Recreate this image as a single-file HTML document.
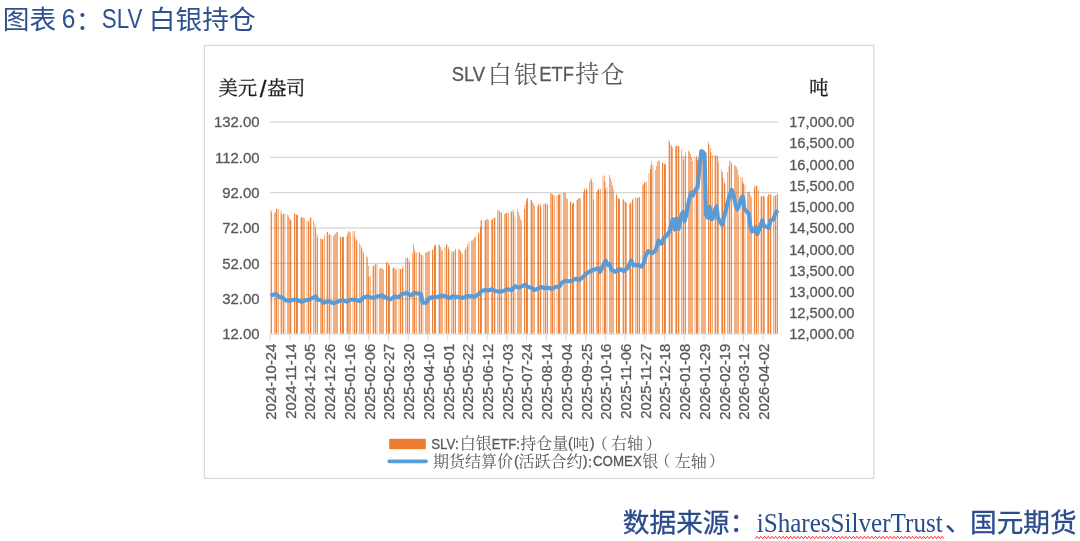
<!DOCTYPE html>
<html lang="zh-CN">
<head>
<meta charset="utf-8">
<title>SLV 白银持仓</title>
<style>
html,body{margin:0;padding:0;background:#fff;}
body{width:1080px;height:541px;position:relative;overflow:hidden;}
svg text{white-space:pre;}
</style>
</head>
<body>
<svg width="1080" height="541" viewBox="0 0 1080 541" style="position:absolute;left:0;top:0">
<rect x="204.4" y="45.4" width="669.4" height="433" fill="#fff" stroke="#d9d9d9" stroke-width="1.3"/>
<line x1="270.2" x2="778" y1="121.9" y2="121.9" stroke="#e6e6e6" stroke-width="1.2"/>
<line x1="270.2" x2="778" y1="157.3" y2="157.3" stroke="#e6e6e6" stroke-width="1.2"/>
<line x1="270.2" x2="778" y1="192.6" y2="192.6" stroke="#e6e6e6" stroke-width="1.2"/>
<line x1="270.2" x2="778" y1="228.0" y2="228.0" stroke="#e6e6e6" stroke-width="1.2"/>
<line x1="270.2" x2="778" y1="263.4" y2="263.4" stroke="#e6e6e6" stroke-width="1.2"/>
<line x1="270.2" x2="778" y1="298.8" y2="298.8" stroke="#e6e6e6" stroke-width="1.2"/>
<path fill="#ED7D31" d="M270.667 333.70V210.1h0.620V333.70zM271.333 333.70V212.0h0.620V333.70zM274.000 333.70V213.2h0.620V333.70zM275.333 333.70V211.9h0.620V333.70zM276.000 333.70V209.2h0.620V333.70zM276.667 333.70V208.5h0.620V333.70zM278.000 333.70V209.0h0.620V333.70zM280.667 333.70V210.9h0.620V333.70zM281.333 333.70V213.7h0.620V333.70zM282.667 333.70V214.4h0.620V333.70zM283.333 333.70V213.8h0.620V333.70zM284.667 333.70V213.4h0.620V333.70zM287.333 333.70V214.6h0.620V333.70zM288.000 333.70V215.5h0.620V333.70zM289.333 333.70V217.9h0.620V333.70zM290.000 333.70V219.4h0.620V333.70zM290.667 333.70V220.5h0.620V333.70zM294.000 333.70V213.3h0.620V333.70zM294.667 333.70V214.0h0.620V333.70zM296.000 333.70V214.6h0.620V333.70zM296.667 333.70V215.0h0.620V333.70zM297.333 333.70V215.3h0.620V333.70zM300.667 333.70V216.9h0.620V333.70zM301.333 333.70V217.5h0.620V333.70zM302.000 333.70V217.6h0.620V333.70zM303.333 333.70V217.7h0.620V333.70zM304.000 333.70V218.3h0.620V333.70zM306.667 333.70V221.1h0.620V333.70zM308.000 333.70V222.2h0.620V333.70zM308.667 333.70V220.0h0.620V333.70zM310.000 333.70V217.8h0.620V333.70zM310.667 333.70V217.6h0.620V333.70zM313.333 333.70V221.1h0.620V333.70zM314.667 333.70V223.5h0.620V333.70zM315.333 333.70V228.3h0.620V333.70zM316.667 333.70V233.8h0.620V333.70zM317.333 333.70V237.6h0.620V333.70zM320.000 333.70V238.5h0.620V333.70zM321.333 333.70V238.9h0.620V333.70zM322.000 333.70V239.5h0.620V333.70zM322.667 333.70V239.0h0.620V333.70zM324.000 333.70V234.7h0.620V333.70zM326.667 333.70V231.5h0.620V333.70zM327.333 333.70V232.3h0.620V333.70zM328.667 333.70V234.2h0.620V333.70zM329.333 333.70V234.6h0.620V333.70zM330.667 333.70V235.0h0.620V333.70zM333.333 333.70V236.1h0.620V333.70zM334.000 333.70V234.8h0.620V333.70zM335.333 333.70V233.6h0.620V333.70zM336.000 333.70V232.3h0.620V333.70zM337.333 333.70V231.8h0.620V333.70zM340.000 333.70V237.0h0.620V333.70zM340.667 333.70V237.0h0.620V333.70zM342.000 333.70V237.0h0.620V333.70zM342.667 333.70V237.0h0.620V333.70zM343.333 333.70V236.6h0.620V333.70zM346.667 333.70V236.3h0.620V333.70zM347.333 333.70V233.5h0.620V333.70zM348.000 333.70V230.8h0.620V333.70zM349.333 333.70V231.7h0.620V333.70zM350.000 333.70V232.6h0.620V333.70zM352.667 333.70V231.3h0.620V333.70zM354.000 333.70V230.9h0.620V333.70zM354.667 333.70V236.9h0.620V333.70zM356.000 333.70V239.3h0.620V333.70zM356.667 333.70V240.7h0.620V333.70zM359.333 333.70V243.1h0.620V333.70zM360.667 333.70V245.3h0.620V333.70zM361.333 333.70V247.9h0.620V333.70zM362.667 333.70V250.4h0.620V333.70zM363.333 333.70V252.9h0.620V333.70zM366.000 333.70V255.2h0.620V333.70zM367.333 333.70V257.4h0.620V333.70zM368.000 333.70V266.1h0.620V333.70zM368.667 333.70V276.7h0.620V333.70zM370.000 333.70V275.8h0.620V333.70zM372.667 333.70V266.6h0.620V333.70zM373.333 333.70V265.5h0.620V333.70zM374.667 333.70V264.4h0.620V333.70zM375.333 333.70V264.3h0.620V333.70zM376.667 333.70V264.1h0.620V333.70zM379.333 333.70V268.8h0.620V333.70zM380.000 333.70V268.0h0.620V333.70zM381.333 333.70V267.7h0.620V333.70zM382.000 333.70V268.8h0.620V333.70zM383.333 333.70V269.5h0.620V333.70zM386.000 333.70V262.8h0.620V333.70zM386.667 333.70V261.5h0.620V333.70zM388.000 333.70V263.6h0.620V333.70zM388.667 333.70V264.6h0.620V333.70zM389.333 333.70V265.8h0.620V333.70zM392.667 333.70V268.1h0.620V333.70zM393.333 333.70V267.6h0.620V333.70zM394.000 333.70V268.3h0.620V333.70zM395.333 333.70V269.3h0.620V333.70zM396.000 333.70V270.3h0.620V333.70zM398.667 333.70V268.2h0.620V333.70zM400.000 333.70V268.8h0.620V333.70zM400.667 333.70V269.4h0.620V333.70zM402.000 333.70V268.1h0.620V333.70zM402.667 333.70V265.6h0.620V333.70zM405.333 333.70V258.8h0.620V333.70zM406.667 333.70V257.5h0.620V333.70zM407.333 333.70V257.7h0.620V333.70zM408.667 333.70V259.2h0.620V333.70zM409.333 333.70V262.0h0.620V333.70zM412.000 333.70V253.5h0.620V333.70zM413.333 333.70V243.4h0.620V333.70zM414.000 333.70V248.5h0.620V333.70zM414.667 333.70V251.8h0.620V333.70zM416.000 333.70V252.5h0.620V333.70zM418.667 333.70V252.3h0.620V333.70zM419.333 333.70V252.2h0.620V333.70zM420.667 333.70V253.7h0.620V333.70zM421.333 333.70V255.0h0.620V333.70zM422.667 333.70V255.4h0.620V333.70zM425.333 333.70V252.5h0.620V333.70zM426.000 333.70V252.4h0.620V333.70zM427.333 333.70V251.9h0.620V333.70zM428.000 333.70V251.3h0.620V333.70zM429.333 333.70V250.8h0.620V333.70zM432.000 333.70V250.3h0.620V333.70zM432.667 333.70V248.7h0.620V333.70zM434.000 333.70V245.7h0.620V333.70zM434.667 333.70V244.9h0.620V333.70zM435.333 333.70V244.6h0.620V333.70zM438.667 333.70V244.6h0.620V333.70zM439.333 333.70V245.2h0.620V333.70zM440.000 333.70V246.9h0.620V333.70zM441.333 333.70V249.3h0.620V333.70zM442.000 333.70V251.1h0.620V333.70zM444.667 333.70V247.1h0.620V333.70zM446.000 333.70V245.1h0.620V333.70zM446.667 333.70V244.0h0.620V333.70zM448.000 333.70V246.7h0.620V333.70zM448.667 333.70V249.1h0.620V333.70zM451.333 333.70V251.0h0.620V333.70zM452.667 333.70V251.4h0.620V333.70zM453.333 333.70V251.4h0.620V333.70zM454.667 333.70V250.4h0.620V333.70zM455.333 333.70V248.7h0.620V333.70zM458.000 333.70V248.7h0.620V333.70zM459.333 333.70V249.5h0.620V333.70zM460.000 333.70V250.5h0.620V333.70zM460.667 333.70V251.9h0.620V333.70zM462.000 333.70V253.7h0.620V333.70zM464.667 333.70V250.2h0.620V333.70zM465.333 333.70V248.6h0.620V333.70zM466.667 333.70V246.7h0.620V333.70zM467.333 333.70V244.1h0.620V333.70zM468.667 333.70V241.5h0.620V333.70zM471.333 333.70V240.7h0.620V333.70zM472.000 333.70V240.6h0.620V333.70zM473.333 333.70V239.1h0.620V333.70zM474.000 333.70V237.4h0.620V333.70zM475.333 333.70V236.2h0.620V333.70zM478.000 333.70V233.9h0.620V333.70zM478.667 333.70V232.0h0.620V333.70zM480.000 333.70V227.1h0.620V333.70zM480.667 333.70V220.5h0.620V333.70zM481.333 333.70V220.0h0.620V333.70zM484.667 333.70V220.4h0.620V333.70zM485.333 333.70V220.2h0.620V333.70zM486.000 333.70V219.5h0.620V333.70zM487.333 333.70V218.9h0.620V333.70zM488.000 333.70V220.1h0.620V333.70zM491.333 333.70V220.2h0.620V333.70zM492.000 333.70V219.4h0.620V333.70zM492.667 333.70V218.1h0.620V333.70zM494.000 333.70V218.1h0.620V333.70zM494.667 333.70V217.6h0.620V333.70zM497.333 333.70V209.8h0.620V333.70zM498.667 333.70V210.6h0.620V333.70zM499.333 333.70V211.3h0.620V333.70zM500.667 333.70V212.1h0.620V333.70zM501.333 333.70V212.9h0.620V333.70zM504.000 333.70V213.9h0.620V333.70zM505.333 333.70V213.5h0.620V333.70zM506.000 333.70V213.2h0.620V333.70zM506.667 333.70V212.8h0.620V333.70zM508.000 333.70V212.7h0.620V333.70zM510.667 333.70V212.4h0.620V333.70zM511.333 333.70V211.1h0.620V333.70zM512.667 333.70V209.5h0.620V333.70zM513.333 333.70V212.1h0.620V333.70zM514.667 333.70V216.7h0.620V333.70zM517.333 333.70V208.9h0.620V333.70zM518.000 333.70V212.1h0.620V333.70zM519.333 333.70V215.3h0.620V333.70zM520.000 333.70V218.9h0.620V333.70zM521.333 333.70V221.1h0.620V333.70zM524.000 333.70V209.1h0.620V333.70zM524.667 333.70V204.8h0.620V333.70zM526.000 333.70V201.2h0.620V333.70zM526.667 333.70V198.5h0.620V333.70zM527.333 333.70V198.1h0.620V333.70zM530.667 333.70V199.4h0.620V333.70zM531.333 333.70V200.3h0.620V333.70zM532.000 333.70V202.2h0.620V333.70zM533.333 333.70V203.9h0.620V333.70zM534.000 333.70V205.5h0.620V333.70zM537.333 333.70V206.5h0.620V333.70zM538.000 333.70V205.0h0.620V333.70zM538.667 333.70V203.4h0.620V333.70zM540.000 333.70V203.7h0.620V333.70zM540.667 333.70V206.7h0.620V333.70zM543.333 333.70V204.6h0.620V333.70zM544.667 333.70V203.8h0.620V333.70zM545.333 333.70V203.2h0.620V333.70zM546.667 333.70V204.0h0.620V333.70zM547.333 333.70V204.9h0.620V333.70zM550.000 333.70V193.5h0.620V333.70zM551.333 333.70V193.2h0.620V333.70zM552.000 333.70V194.2h0.620V333.70zM552.667 333.70V195.1h0.620V333.70zM554.000 333.70V195.3h0.620V333.70zM556.667 333.70V195.4h0.620V333.70zM558.000 333.70V195.1h0.620V333.70zM558.667 333.70V194.5h0.620V333.70zM559.333 333.70V194.0h0.620V333.70zM560.667 333.70V193.7h0.620V333.70zM563.333 333.70V192.6h0.620V333.70zM564.000 333.70V192.1h0.620V333.70zM565.333 333.70V193.1h0.620V333.70zM566.000 333.70V198.3h0.620V333.70zM567.333 333.70V199.0h0.620V333.70zM570.000 333.70V201.1h0.620V333.70zM570.667 333.70V202.3h0.620V333.70zM572.000 333.70V204.1h0.620V333.70zM572.667 333.70V203.3h0.620V333.70zM573.333 333.70V202.5h0.620V333.70zM576.667 333.70V200.1h0.620V333.70zM577.333 333.70V199.2h0.620V333.70zM578.000 333.70V198.3h0.620V333.70zM579.333 333.70V198.3h0.620V333.70zM580.000 333.70V198.3h0.620V333.70zM583.333 333.70V191.8h0.620V333.70zM584.000 333.70V189.9h0.620V333.70zM584.667 333.70V188.0h0.620V333.70zM586.000 333.70V188.1h0.620V333.70zM586.667 333.70V190.0h0.620V333.70zM589.333 333.70V181.4h0.620V333.70zM590.667 333.70V178.6h0.620V333.70zM591.333 333.70V179.5h0.620V333.70zM592.667 333.70V181.9h0.620V333.70zM593.333 333.70V199.3h0.620V333.70zM596.000 333.70V192.3h0.620V333.70zM597.333 333.70V190.4h0.620V333.70zM598.000 333.70V189.6h0.620V333.70zM598.667 333.70V188.8h0.620V333.70zM600.000 333.70V189.0h0.620V333.70zM602.667 333.70V175.6h0.620V333.70zM604.000 333.70V175.8h0.620V333.70zM604.667 333.70V181.5h0.620V333.70zM605.333 333.70V188.7h0.620V333.70zM606.667 333.70V187.3h0.620V333.70zM609.333 333.70V174.7h0.620V333.70zM610.000 333.70V177.8h0.620V333.70zM611.333 333.70V181.3h0.620V333.70zM612.000 333.70V185.3h0.620V333.70zM613.333 333.70V189.2h0.620V333.70zM616.000 333.70V193.4h0.620V333.70zM616.667 333.70V195.7h0.620V333.70zM618.000 333.70V198.2h0.620V333.70zM618.667 333.70V198.6h0.620V333.70zM619.333 333.70V199.0h0.620V333.70zM622.667 333.70V198.9h0.620V333.70zM623.333 333.70V199.8h0.620V333.70zM624.667 333.70V201.1h0.620V333.70zM625.333 333.70V202.2h0.620V333.70zM626.000 333.70V203.1h0.620V333.70zM629.333 333.70V203.9h0.620V333.70zM630.000 333.70V203.8h0.620V333.70zM630.667 333.70V202.0h0.620V333.70zM632.000 333.70V199.9h0.620V333.70zM632.667 333.70V198.6h0.620V333.70zM635.333 333.70V197.6h0.620V333.70zM636.667 333.70V197.7h0.620V333.70zM637.333 333.70V197.8h0.620V333.70zM638.667 333.70V197.4h0.620V333.70zM639.333 333.70V196.9h0.620V333.70zM642.000 333.70V185.3h0.620V333.70zM643.333 333.70V184.0h0.620V333.70zM644.000 333.70V182.8h0.620V333.70zM644.667 333.70V182.1h0.620V333.70zM646.000 333.70V181.4h0.620V333.70zM648.667 333.70V173.2h0.620V333.70zM650.000 333.70V169.2h0.620V333.70zM650.667 333.70V165.2h0.620V333.70zM651.333 333.70V161.2h0.620V333.70zM652.667 333.70V165.2h0.620V333.70zM655.333 333.70V169.9h0.620V333.70zM656.000 333.70V166.0h0.620V333.70zM657.333 333.70V162.1h0.620V333.70zM658.000 333.70V160.7h0.620V333.70zM659.333 333.70V160.4h0.620V333.70zM662.000 333.70V162.3h0.620V333.70zM662.667 333.70V163.3h0.620V333.70zM664.000 333.70V164.4h0.620V333.70zM664.667 333.70V164.3h0.620V333.70zM665.333 333.70V163.3h0.620V333.70zM668.667 333.70V140.0h0.620V333.70zM669.333 333.70V142.3h0.620V333.70zM670.667 333.70V144.4h0.620V333.70zM671.333 333.70V146.3h0.620V333.70zM672.000 333.70V147.2h0.620V333.70zM675.333 333.70V146.4h0.620V333.70zM676.000 333.70V145.6h0.620V333.70zM676.667 333.70V145.8h0.620V333.70zM678.000 333.70V146.0h0.620V333.70zM678.667 333.70V146.2h0.620V333.70zM681.333 333.70V149.9h0.620V333.70zM682.667 333.70V154.8h0.620V333.70zM683.333 333.70V159.7h0.620V333.70zM684.667 333.70V156.6h0.620V333.70zM685.333 333.70V152.6h0.620V333.70zM688.000 333.70V150.5h0.620V333.70zM689.333 333.70V151.8h0.620V333.70zM690.000 333.70V154.1h0.620V333.70zM691.333 333.70V157.4h0.620V333.70zM692.000 333.70V161.0h0.620V333.70zM694.667 333.70V157.5h0.620V333.70zM696.000 333.70V155.9h0.620V333.70zM696.667 333.70V157.6h0.620V333.70zM697.333 333.70V159.9h0.620V333.70zM698.667 333.70V159.6h0.620V333.70zM701.333 333.70V158.4h0.620V333.70zM702.000 333.70V157.6h0.620V333.70zM703.333 333.70V156.9h0.620V333.70zM704.000 333.70V156.1h0.620V333.70zM705.333 333.70V155.2h0.620V333.70zM708.000 333.70V142.1h0.620V333.70zM708.667 333.70V144.5h0.620V333.70zM710.000 333.70V148.1h0.620V333.70zM710.667 333.70V152.3h0.620V333.70zM712.000 333.70V155.5h0.620V333.70zM714.667 333.70V155.5h0.620V333.70zM715.333 333.70V155.3h0.620V333.70zM716.667 333.70V155.0h0.620V333.70zM717.333 333.70V156.9h0.620V333.70zM718.000 333.70V162.1h0.620V333.70zM721.333 333.70V169.5h0.620V333.70zM722.000 333.70V171.9h0.620V333.70zM722.667 333.70V177.5h0.620V333.70zM724.000 333.70V181.7h0.620V333.70zM724.667 333.70V184.0h0.620V333.70zM727.333 333.70V172.0h0.620V333.70zM728.667 333.70V166.3h0.620V333.70zM729.333 333.70V160.7h0.620V333.70zM730.667 333.70V161.3h0.620V333.70zM731.333 333.70V163.6h0.620V333.70zM734.000 333.70V165.6h0.620V333.70zM735.333 333.70V165.6h0.620V333.70zM736.000 333.70V166.7h0.620V333.70zM737.333 333.70V169.8h0.620V333.70zM738.000 333.70V175.0h0.620V333.70zM740.667 333.70V177.0h0.620V333.70zM742.000 333.70V177.6h0.620V333.70zM742.667 333.70V181.8h0.620V333.70zM743.333 333.70V184.3h0.620V333.70zM744.667 333.70V184.3h0.620V333.70zM747.333 333.70V191.9h0.620V333.70zM748.000 333.70V191.8h0.620V333.70zM749.333 333.70V191.4h0.620V333.70zM750.000 333.70V195.1h0.620V333.70zM751.333 333.70V197.1h0.620V333.70zM754.000 333.70V187.4h0.620V333.70zM754.667 333.70V185.3h0.620V333.70zM756.000 333.70V185.3h0.620V333.70zM756.667 333.70V186.3h0.620V333.70zM758.000 333.70V190.1h0.620V333.70zM760.667 333.70V196.9h0.620V333.70zM761.333 333.70V195.7h0.620V333.70zM762.667 333.70V195.7h0.620V333.70zM763.333 333.70V196.2h0.620V333.70zM764.000 333.70V196.6h0.620V333.70zM767.333 333.70V196.5h0.620V333.70zM768.000 333.70V194.9h0.620V333.70zM768.667 333.70V193.4h0.620V333.70zM770.000 333.70V194.0h0.620V333.70zM770.667 333.70V194.9h0.620V333.70zM773.333 333.70V196.0h0.620V333.70zM774.667 333.70V195.9h0.620V333.70zM775.333 333.70V195.3h0.620V333.70zM776.667 333.70V194.6h0.620V333.70zM777.333 333.70V194.0h0.620V333.70z"/>
<line x1="270.2" x2="778" y1="121.9" y2="121.9" stroke="#ededed" stroke-width="1.3" style="mix-blend-mode:multiply"/>
<line x1="270.2" x2="778" y1="157.3" y2="157.3" stroke="#ededed" stroke-width="1.3" style="mix-blend-mode:multiply"/>
<line x1="270.2" x2="778" y1="192.6" y2="192.6" stroke="#ededed" stroke-width="1.3" style="mix-blend-mode:multiply"/>
<line x1="270.2" x2="778" y1="228.0" y2="228.0" stroke="#ededed" stroke-width="1.3" style="mix-blend-mode:multiply"/>
<line x1="270.2" x2="778" y1="263.4" y2="263.4" stroke="#ededed" stroke-width="1.3" style="mix-blend-mode:multiply"/>
<line x1="270.2" x2="778" y1="298.8" y2="298.8" stroke="#ededed" stroke-width="1.3" style="mix-blend-mode:multiply"/>
<line x1="270.2" x2="778" y1="334.3" y2="334.3" stroke="#e0e0e0" stroke-width="1"/>
<path d="M270.2 334v6.8M289.9 334v6.8M309.6 334v6.8M329.4 334v6.8M349.1 334v6.8M368.8 334v6.8M388.5 334v6.8M408.2 334v6.8M428.0 334v6.8M447.7 334v6.8M467.4 334v6.8M487.1 334v6.8M506.8 334v6.8M526.5 334v6.8M546.3 334v6.8M566.0 334v6.8M585.7 334v6.8M605.4 334v6.8M625.1 334v6.8M644.9 334v6.8M664.6 334v6.8M684.3 334v6.8M704.0 334v6.8M723.7 334v6.8M743.5 334v6.8M763.2 334v6.8" stroke="#d9d9d9" stroke-width="1" fill="none"/>
<path d="M270.4 295.7 L275.6 293.9 L279.3 296.9 L282.3 297.6 L285.3 300.3 L289.7 300.9 L293.4 299.8 L297.1 299.8 L301.6 302.0 L305.3 300.3 L309.0 299.8 L311.9 298.3 L315.6 296.4 L317.9 299.8 L321.6 300.6 L323.8 302.8 L328.2 301.3 L334.1 303.2 L338.6 301.3 L343.0 300.3 L346.7 301.7 L350.4 299.8 L354.9 299.8 L360.1 301.3 L363.0 297.6 L367.5 296.4 L372.7 297.9 L377.1 296.4 L381.6 295.4 L386.0 297.6 L390.4 299.4 L394.9 296.4 L398.6 297.3 L402.3 293.9 L406.7 292.9 L410.4 295.4 L414.9 292.9 L420.8 293.9 L422.7 302.8 L426.0 302.8 L429.0 298.5 L432.7 297.0 L437.1 297.0 L440.8 295.6 L445.3 296.0 L449.0 298.1 L452.7 296.3 L457.9 297.0 L463.0 297.8 L467.5 296.0 L471.9 296.3 L474.9 296.6 L478.6 294.1 L482.3 290.7 L485.3 290.1 L489.0 290.4 L491.9 289.2 L495.6 291.1 L498.6 291.6 L503.0 291.1 L507.5 289.2 L511.9 290.1 L514.9 286.2 L518.6 287.7 L522.3 286.2 L525.3 284.7 L528.2 287.1 L531.2 287.7 L534.1 290.1 L537.9 288.6 L540.8 287.1 L544.5 288.1 L548.2 287.7 L551.9 288.9 L555.6 286.7 L559.3 286.7 L561.6 283.0 L565.3 280.7 L569.0 281.2 L571.9 280.7 L575.6 278.8 L579.3 280.0 L583.0 277.0 L586.0 273.8 L590.4 271.1 L594.9 269.3 L598.6 268.4 L600.1 271.9 L603.0 265.9 L605.6 260.7 L608.2 265.2 L609.7 264.0 L611.2 269.6 L615.6 271.9 L619.3 268.9 L623.8 271.1 L627.5 268.1 L631.2 260.4 L633.4 265.2 L637.9 264.9 L641.6 266.7 L643.8 263.0 L646.0 254.8 L648.2 251.1 L651.9 253.3 L655.6 250.4 L658.6 240.7 L661.6 243.7 L663.8 237.8 L666.7 235.6 L669.7 231.1 L672.7 219.3 L674.9 229.6 L676.4 218.5 L678.6 228.9 L680.8 217.8 L681.8 213.9 L683.3 212.1 L684.6 221.3 L686.5 213.9 L689.2 199.1 L691.1 192.7 L692.9 195.5 L694.8 190.8 L697.6 187.1 L699.4 167.7 L701.3 151.1 L703.1 152.0 L704.6 153.9 L705.3 186.2 L705.9 213.9 L707.7 217.6 L709.6 206.5 L711.4 219.5 L713.3 217.6 L715.1 209.3 L716.6 206.5 L717.9 217.6 L719.7 221.3 L722.1 225.0 L724.4 215.8 L727.1 204.7 L729.5 195.5 L731.8 189.9 L733.6 195.5 L735.5 204.7 L737.3 209.3 L739.5 204.7 L741.6 197.3 L742.8 196.4 L744.3 208.4 L746.5 211.2 L748.8 213.9 L750.2 225.0 L752.1 231.5 L753.9 230.6 L755.8 226.9 L757.3 234.3 L759.5 228.7 L762.3 220.4 L764.1 226.0 L766.9 226.9 L768.7 227.8 L770.6 220.4 L773.3 219.5 L775.2 213.9 L777.6 210.2" fill="none" stroke="#5B9BD5" stroke-width="4.1" stroke-linejoin="round" stroke-linecap="butt"/>
<g font-family="'Liberation Sans', sans-serif" font-size="14.9" fill="#595959" stroke="#595959" stroke-width="0.3">
<text x="259.5" y="127.2" text-anchor="end">132.00</text>
<text x="259.5" y="162.6" text-anchor="end">112.00</text>
<text x="259.5" y="197.9" text-anchor="end">92.00</text>
<text x="259.5" y="233.3" text-anchor="end">72.00</text>
<text x="259.5" y="268.7" text-anchor="end">52.00</text>
<text x="259.5" y="304.1" text-anchor="end">32.00</text>
<text x="259.5" y="339.4" text-anchor="end">12.00</text>
<text x="789.2" y="127.2" font-size="14.7">17,000.00</text>
<text x="789.2" y="148.4" font-size="14.7">16,500.00</text>
<text x="789.2" y="169.6" font-size="14.7">16,000.00</text>
<text x="789.2" y="190.9" font-size="14.7">15,500.00</text>
<text x="789.2" y="212.1" font-size="14.7">15,000.00</text>
<text x="789.2" y="233.3" font-size="14.7">14,500.00</text>
<text x="789.2" y="254.5" font-size="14.7">14,000.00</text>
<text x="789.2" y="275.7" font-size="14.7">13,500.00</text>
<text x="789.2" y="297.0" font-size="14.7">13,000.00</text>
<text x="789.2" y="318.2" font-size="14.7">12,500.00</text>
<text x="789.2" y="339.4" font-size="14.7">12,000.00</text>
<text transform="translate(270.7 343.6) rotate(-90)" text-anchor="end" y="5.3">2024-10-24</text>
<text transform="translate(290.4 343.6) rotate(-90)" text-anchor="end" y="5.3">2024-11-14</text>
<text transform="translate(310.1 343.6) rotate(-90)" text-anchor="end" y="5.3">2024-12-05</text>
<text transform="translate(329.9 343.6) rotate(-90)" text-anchor="end" y="5.3">2024-12-26</text>
<text transform="translate(349.6 343.6) rotate(-90)" text-anchor="end" y="5.3">2025-01-16</text>
<text transform="translate(369.3 343.6) rotate(-90)" text-anchor="end" y="5.3">2025-02-06</text>
<text transform="translate(389.0 343.6) rotate(-90)" text-anchor="end" y="5.3">2025-02-27</text>
<text transform="translate(408.7 343.6) rotate(-90)" text-anchor="end" y="5.3">2025-03-20</text>
<text transform="translate(428.5 343.6) rotate(-90)" text-anchor="end" y="5.3">2025-04-10</text>
<text transform="translate(448.2 343.6) rotate(-90)" text-anchor="end" y="5.3">2025-05-01</text>
<text transform="translate(467.9 343.6) rotate(-90)" text-anchor="end" y="5.3">2025-05-22</text>
<text transform="translate(487.6 343.6) rotate(-90)" text-anchor="end" y="5.3">2025-06-12</text>
<text transform="translate(507.3 343.6) rotate(-90)" text-anchor="end" y="5.3">2025-07-03</text>
<text transform="translate(527.0 343.6) rotate(-90)" text-anchor="end" y="5.3">2025-07-24</text>
<text transform="translate(546.8 343.6) rotate(-90)" text-anchor="end" y="5.3">2025-08-14</text>
<text transform="translate(566.5 343.6) rotate(-90)" text-anchor="end" y="5.3">2025-09-04</text>
<text transform="translate(586.2 343.6) rotate(-90)" text-anchor="end" y="5.3">2025-09-25</text>
<text transform="translate(605.9 343.6) rotate(-90)" text-anchor="end" y="5.3">2025-10-16</text>
<text transform="translate(625.6 343.6) rotate(-90)" text-anchor="end" y="5.3">2025-11-06</text>
<text transform="translate(645.4 343.6) rotate(-90)" text-anchor="end" y="5.3">2025-11-27</text>
<text transform="translate(665.1 343.6) rotate(-90)" text-anchor="end" y="5.3">2025-12-18</text>
<text transform="translate(684.8 343.6) rotate(-90)" text-anchor="end" y="5.3">2026-01-08</text>
<text transform="translate(704.5 343.6) rotate(-90)" text-anchor="end" y="5.3">2026-01-29</text>
<text transform="translate(724.2 343.6) rotate(-90)" text-anchor="end" y="5.3">2026-02-19</text>
<text transform="translate(744.0 343.6) rotate(-90)" text-anchor="end" y="5.3">2026-03-12</text>
<text transform="translate(763.7 343.6) rotate(-90)" text-anchor="end" y="5.3">2026-04-02</text>
</g>
<rect x="389.2" y="438.8" width="36.6" height="10.4" fill="#ED7D31"/>
<line x1="389.3" x2="426" y1="461.3" y2="461.3" stroke="#5B9BD5" stroke-width="3.7" stroke-linecap="round"/>
<path d="M755.3 538.7l1.85 -2.4l1.85 2.4l1.85 -2.4l1.85 2.4l1.85 -2.4l1.85 2.4l1.85 -2.4l1.85 2.4l1.85 -2.4l1.85 2.4l1.85 -2.4l1.85 2.4l1.85 -2.4l1.85 2.4l1.85 -2.4l1.85 2.4l1.85 -2.4l1.85 2.4l1.85 -2.4l1.85 2.4l1.85 -2.4l1.85 2.4l1.85 -2.4l1.85 2.4l1.85 -2.4l1.85 2.4l1.85 -2.4l1.85 2.4l1.85 -2.4l1.85 2.4l1.85 -2.4l1.85 2.4l1.85 -2.4l1.85 2.4l1.85 -2.4l1.85 2.4l1.85 -2.4l1.85 2.4l1.85 -2.4l1.85 2.4l1.85 -2.4l1.85 2.4l1.85 -2.4l1.85 2.4l1.85 -2.4l1.85 2.4l1.85 -2.4l1.85 2.4l1.85 -2.4l1.85 2.4l1.85 -2.4l1.85 2.4l1.85 -2.4l1.85 2.4l1.85 -2.4l1.85 2.4l1.85 -2.4l1.85 2.4l1.85 -2.4l1.85 2.4l1.85 -2.4l1.85 2.4l1.85 -2.4l1.85 2.4l1.85 -2.4l1.85 2.4l1.85 -2.4l1.85 2.4l1.85 -2.4l1.85 2.4l1.85 -2.4l1.85 2.4l1.85 -2.4l1.85 2.4l1.85 -2.4l1.85 2.4l1.85 -2.4l1.85 2.4l1.85 -2.4l1.85 2.4l1.85 -2.4l1.85 2.4l1.85 -2.4l1.85 2.4l1.85 -2.4l1.85 2.4l1.85 -2.4l1.85 2.4l1.85 -2.4l1.85 2.4l1.85 -2.4l1.85 2.4l1.85 -2.4l1.85 2.4l1.85 -2.4l1.85 2.4l1.85 -2.4l1.85 2.4l1.85 -2.4l1.85 2.4l1.85 -2.4l1.85 2.4" fill="none" stroke="#ff2a2a" stroke-width="1" stroke-linejoin="round"/>
<text><tspan x="2.85" y="29.00" font-family="'Liberation Sans','Noto Sans CJK SC',sans-serif" font-size="26.7" fill="#2E5192">图表 </tspan><tspan x="61.75" y="28.25" font-family="'Liberation Sans','Noto Sans CJK SC',sans-serif" font-size="27.5" fill="#2E5192" textLength="13.66" lengthAdjust="spacingAndGlyphs">6</tspan><tspan x="75.80" y="30.00" font-family="'Liberation Sans','Noto Sans CJK SC',sans-serif" font-size="26.7" fill="#2E5192">：</tspan><tspan x="101.80" y="28.25" font-family="'Liberation Sans','Noto Sans CJK SC',sans-serif" font-size="27.5" fill="#2E5192" textLength="40.58" lengthAdjust="spacingAndGlyphs">SLV</tspan><tspan x="141.45" y="28.75" font-family="'Liberation Sans','Noto Sans CJK SC',sans-serif" font-size="26.7" fill="#2E5192"> 白银持仓</tspan></text>
<text><tspan x="451.70" y="81.45" font-family="'Liberation Sans','Noto Serif CJK SC',serif" font-size="20.8" fill="#595959" stroke="#595959" stroke-width="0.3" textLength="33.48" lengthAdjust="spacingAndGlyphs">SLV</tspan><tspan x="487.70" y="83.10" font-family="'Liberation Sans','Noto Serif CJK SC',serif" font-size="24" fill="#595959">白</tspan><tspan x="514.10" y="83.10" font-family="'Liberation Sans','Noto Serif CJK SC',serif" font-size="24" fill="#595959">银</tspan><tspan x="539.15" y="81.45" font-family="'Liberation Sans','Noto Serif CJK SC',serif" font-size="20.8" fill="#595959" stroke="#595959" stroke-width="0.3" textLength="34.74" lengthAdjust="spacingAndGlyphs">ETF</tspan><tspan x="575.20" y="82.10" font-family="'Liberation Sans','Noto Serif CJK SC',serif" font-size="24" fill="#595959">持</tspan><tspan x="600.20" y="83.10" font-family="'Liberation Sans','Noto Serif CJK SC',serif" font-size="24" fill="#595959">仓</tspan></text>
<text><tspan x="218.50" y="95.30" font-family="'Liberation Sans','Noto Serif CJK SC',serif" font-size="19.2" fill="#1a1a1a" stroke="#1a1a1a" stroke-width="0.3">美</tspan><tspan x="238.00" y="95.30" font-family="'Liberation Sans','Noto Serif CJK SC',serif" font-size="19.2" fill="#1a1a1a" stroke="#1a1a1a" stroke-width="0.3">元</tspan><tspan x="259.65" y="97.25" font-family="'Liberation Sans','Noto Serif CJK SC',serif" font-size="24" fill="#1a1a1a" stroke="#1a1a1a" stroke-width="0.35">/</tspan><tspan x="267.20" y="95.30" font-family="'Liberation Sans','Noto Serif CJK SC',serif" font-size="19.2" fill="#1a1a1a" stroke="#1a1a1a" stroke-width="0.3">盎</tspan><tspan x="285.90" y="95.30" font-family="'Liberation Sans','Noto Serif CJK SC',serif" font-size="19.2" fill="#1a1a1a" stroke="#1a1a1a" stroke-width="0.3">司</tspan></text>
<text><tspan x="809.30" y="94.75" font-family="'Liberation Sans','Noto Serif CJK SC',serif" font-size="19.2" fill="#1a1a1a" stroke="#1a1a1a" stroke-width="0.3">吨</tspan></text>
<text><tspan x="431.25" y="448.55" font-family="'Liberation Sans','Noto Serif CJK SC',serif" font-size="14.7" fill="#595959" stroke="#595959" stroke-width="0.3" textLength="27.33" lengthAdjust="spacingAndGlyphs">SLV:</tspan><tspan x="459.75" y="449.00" font-family="'Liberation Sans','Noto Serif CJK SC',serif" font-size="16" fill="#595959">白银</tspan><tspan x="491.85" y="448.55" font-family="'Liberation Sans','Noto Serif CJK SC',serif" font-size="14.7" fill="#595959" stroke="#595959" stroke-width="0.3" textLength="28.01" lengthAdjust="spacingAndGlyphs">ETF:</tspan><tspan x="520.25" y="449.00" font-family="'Liberation Sans','Noto Serif CJK SC',serif" font-size="16" fill="#595959">持仓量</tspan><tspan x="567.90" y="448.00" font-family="'Liberation Sans','Noto Serif CJK SC',serif" font-size="14.7" fill="#595959" stroke="#595959" stroke-width="0.25">(</tspan><tspan x="572.80" y="449.50" font-family="'Liberation Sans','Noto Serif CJK SC',serif" font-size="16" fill="#595959">吨</tspan><tspan x="589.85" y="448.00" font-family="'Liberation Sans','Noto Serif CJK SC',serif" font-size="14.7" fill="#595959" stroke="#595959" stroke-width="0.25">)</tspan><tspan x="592.10" y="448.75" font-family="'Liberation Sans','Noto Serif CJK SC',serif" font-size="16" fill="#595959">（</tspan><tspan x="611.10" y="449.15" font-family="'Liberation Sans','Noto Serif CJK SC',serif" font-size="16" fill="#595959">右轴</tspan><tspan x="645.85" y="448.75" font-family="'Liberation Sans','Noto Serif CJK SC',serif" font-size="16" fill="#595959">）</tspan></text>
<text><tspan x="432.90" y="466.60" font-family="'Liberation Sans','Noto Serif CJK SC',serif" font-size="16" fill="#595959">期货结算价</tspan><tspan x="514.00" y="465.70" font-family="'Liberation Sans','Noto Serif CJK SC',serif" font-size="14.7" fill="#595959" stroke="#595959" stroke-width="0.25">(</tspan><tspan x="518.55" y="466.60" font-family="'Liberation Sans','Noto Serif CJK SC',serif" font-size="16" fill="#595959">活跃合约</tspan><tspan x="582.70" y="465.70" font-family="'Liberation Sans','Noto Serif CJK SC',serif" font-size="14.7" fill="#595959" stroke="#595959" stroke-width="0.25">)</tspan><tspan x="587.90" y="466.75" font-family="'Liberation Sans','Noto Serif CJK SC',serif" font-size="14.7" fill="#595959" stroke="#595959" stroke-width="0.25">:</tspan><tspan x="593.00" y="466.25" font-family="'Liberation Sans','Noto Serif CJK SC',serif" font-size="14.7" fill="#595959" stroke="#595959" stroke-width="0.3" textLength="48.87" lengthAdjust="spacingAndGlyphs">COMEX</tspan><tspan x="642.35" y="466.60" font-family="'Liberation Sans','Noto Serif CJK SC',serif" font-size="16" fill="#595959">银</tspan><tspan x="654.60" y="466.45" font-family="'Liberation Sans','Noto Serif CJK SC',serif" font-size="16" fill="#595959">（</tspan><tspan x="674.85" y="466.75" font-family="'Liberation Sans','Noto Serif CJK SC',serif" font-size="16" fill="#595959">左轴</tspan><tspan x="708.75" y="466.45" font-family="'Liberation Sans','Noto Serif CJK SC',serif" font-size="16" fill="#595959">）</tspan></text>
<text><tspan x="622.80" y="531.65" font-family="'Liberation Sans','Noto Sans CJK SC',sans-serif" font-size="26.7" fill="#2B4C8C" stroke="#2B4C8C" stroke-width="0.3">数据来源：</tspan><tspan x="756.70" y="532.30" font-family="'Liberation Serif','Noto Serif CJK SC',serif" font-size="27.0" fill="#2B4C8C" textLength="186.03" lengthAdjust="spacingAndGlyphs">iSharesSilverTrust</tspan><tspan x="944.95" y="531.25" font-family="'Liberation Sans','Noto Sans CJK SC',sans-serif" font-size="26.7" fill="#2B4C8C" stroke="#2B4C8C" stroke-width="0.3">、</tspan><tspan x="970.00" y="531.65" font-family="'Liberation Sans','Noto Sans CJK SC',sans-serif" font-size="26.7" fill="#2B4C8C" stroke="#2B4C8C" stroke-width="0.3">国元期货</tspan></text>
</svg>
</body>
</html>
